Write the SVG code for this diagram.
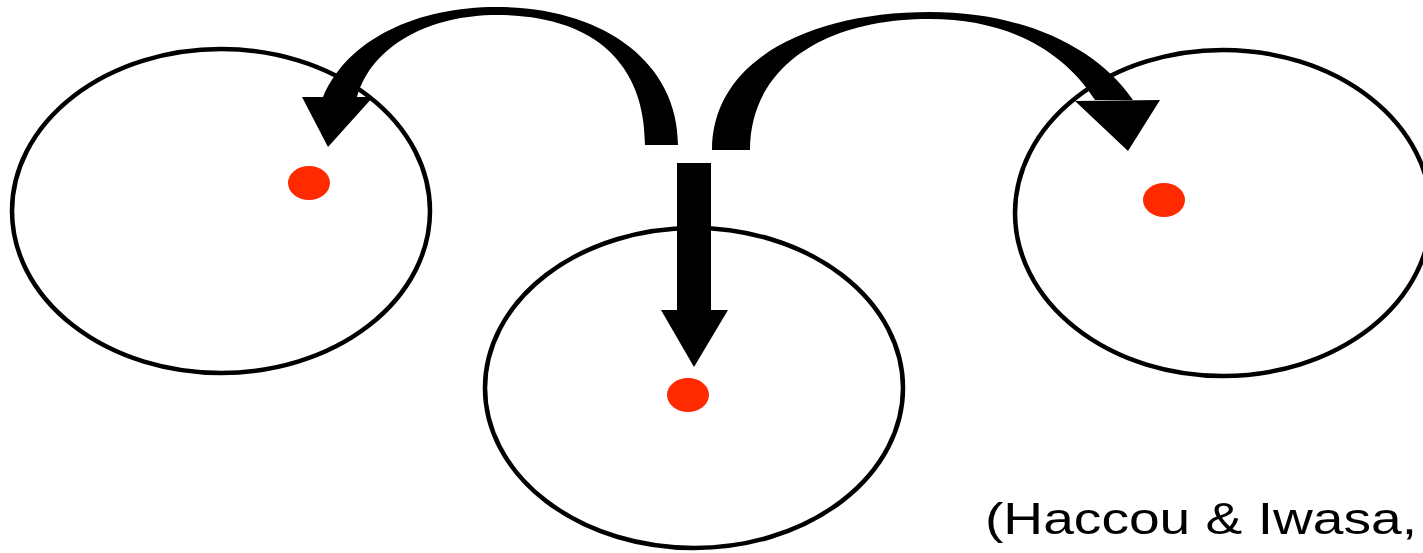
<svg xmlns="http://www.w3.org/2000/svg" width="1423" height="553" viewBox="0 0 1423 553">
<style>
.ring{fill:none;stroke:#000;stroke-width:4.5}
.dot{fill:#ff2a00;stroke:none}
.arw{fill:#000;stroke:none}
.cite{font-family:"Liberation Sans",Arial,sans-serif;font-size:45px;fill:#000}
</style>
<rect width="1423" height="553" fill="#fff"/>
<g id="node-left">
<ellipse class="ring" cx="221" cy="211" rx="209" ry="162"/>
<ellipse class="dot" cx="309" cy="183" rx="21" ry="17"/>
</g>
<g id="node-middle">
<ellipse class="ring" cx="694" cy="388" rx="209" ry="160"/>
<ellipse class="dot" cx="688" cy="395" rx="21" ry="17"/>
</g>
<g id="node-right">
<ellipse class="ring" cx="1223" cy="213" rx="208" ry="163"/>
<ellipse class="dot" cx="1164" cy="200" rx="21" ry="17"/>
</g>
<g id="connectors">
<path class="arw" d="M678,145 C678,60 600,7 497,7 C418,7 348,38 323,97 L357,97 C372,45 430,15 497,15 C590,15 645,60 645,145 Z"/>
<polygon class="arw" points="302,97 373,97 328,147"/>
<path class="arw" d="M712,150 C712,60 810,12 930,12 C1020,12 1095,45 1133,100 L1095,100 C1060,45 1000,19 930,19 C820,19 750,70 750,150 Z"/>
<polygon class="arw" points="1075,101 1160,100 1128,151"/>
<rect class="arw" x="677" y="163" width="34" height="148"/>
<polygon class="arw" points="661,310 728,310 694,367"/>
</g>
<text class="cite" x="985" y="534" textLength="432" lengthAdjust="spacingAndGlyphs">(Haccou &amp; Iwasa,</text>
</svg>
